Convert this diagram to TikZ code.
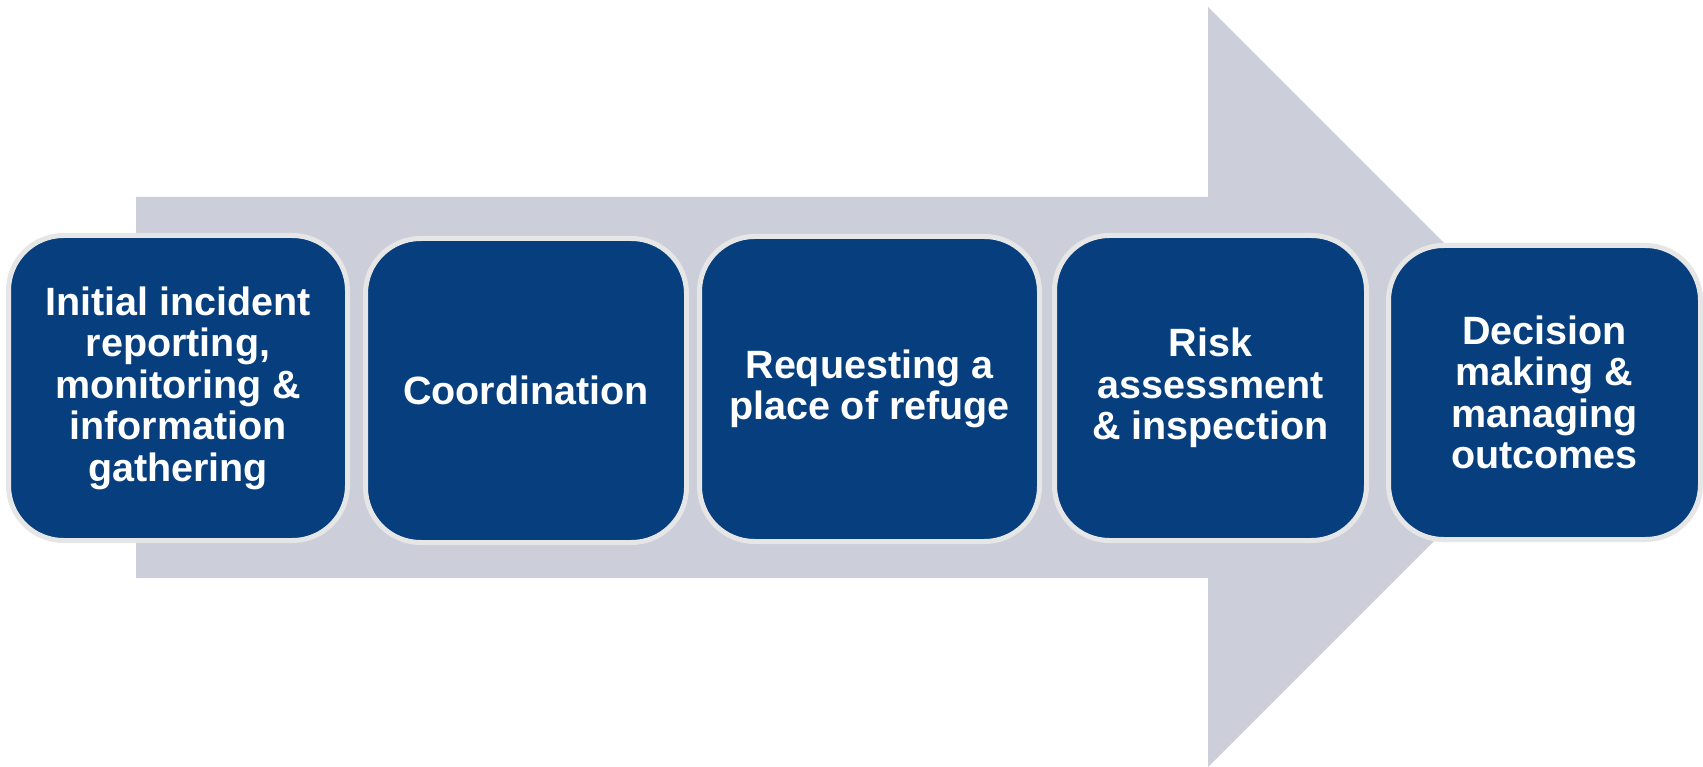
\documentclass[tikz,border=0pt]{standalone}
\usepackage{fontspec}
\setmainfont{Liberation Sans}
\definecolor{stepblue}{HTML}{063E7E}
\definecolor{arrowgray}{HTML}{CCCED9}
\definecolor{rimgray}{HTML}{E6E6E6}
\tikzset{
  stepbox/.style={draw=rimgray, line width=5pt, fill=stepblue, rounded corners=55pt,
    text=white, align=center, inner sep=0pt,
    font=\fontsize{39.5}{41.5}\selectfont\bfseries},
  bigarrow/.style={fill=arrowgray, draw=none}
}
\begin{document}
\begin{tikzpicture}[x=1pt, y=-1pt]
\useasboundingbox (0,0) rectangle (1703,767);
\fill[white] (0,0) rectangle (1703,767);
\path[bigarrow] (136,197) -- (1208,197) -- (1208,7) -- (1588,387) -- (1208,767) -- (1208,578) -- (136,578) -- cycle;
\node[stepbox, minimum width=339pt, minimum height=305pt] (s1) at (178,388)
  {Initial incident\\reporting,\\monitoring \&\\information\\gathering};
\node[stepbox, minimum width=321pt, minimum height=304pt] (s2) at (526,390.5)
  {Coordination};
\node[stepbox, minimum width=340pt, minimum height=305pt] (s3) at (869.5,389)
  {Requesting a\\place of refuge};
\node[stepbox, minimum width=312pt, minimum height=305pt] (s4) at (1210.5,388)
  {Risk\\assessment\\\& inspection};
\node[stepbox, minimum width=312pt, minimum height=294pt] (s5) at (1544.5,392.5)
  {Decision\\making \&\\managing\\outcomes};
\end{tikzpicture}
\end{document}
